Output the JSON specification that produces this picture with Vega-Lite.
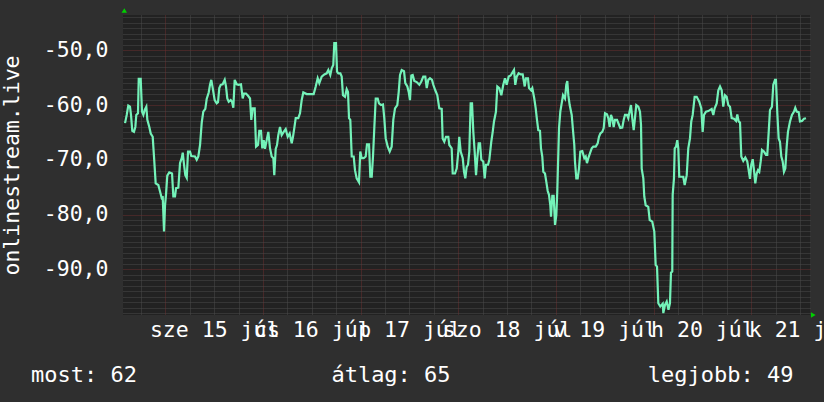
{
  "$schema": "https://vega.github.io/schema/vega-lite/v6.json",
  "width": 687,
  "height": 300,
  "autosize": "none",
  "padding": {"left": 123, "top": 15, "right": 14, "bottom": 87},
  "background": "#2f2f2f",
  "config": {
    "view": {"fill": "#222222", "stroke": null},
    "font": "DejaVu Sans Mono",
    "text": {"font": "DejaVu Sans Mono"}
  },
  "datasets": {
    "signal": [
      {"t":"2020-07-14T14:06","v":-63.3},{"t":"2020-07-14T14:31","v":-61.8},{"t":"2020-07-14T14:54","v":-60.1},{"t":"2020-07-14T15:19","v":-60.3},{"t":"2020-07-14T15:34","v":-61.8},{"t":"2020-07-14T15:53","v":-64.7},{"t":"2020-07-14T16:18","v":-64.9},{"t":"2020-07-14T16:38","v":-64.0},{"t":"2020-07-14T16:52","v":-61.8},{"t":"2020-07-14T17:17","v":-61.5},{"t":"2020-07-14T17:28","v":-55.2},{"t":"2020-07-14T17:57","v":-55.2},{"t":"2020-07-14T18:16","v":-61.2},{"t":"2020-07-14T18:36","v":-61.8},{"t":"2020-07-14T18:56","v":-60.9},{"t":"2020-07-14T19:20","v":-60.3},{"t":"2020-07-14T19:35","v":-62.7},{"t":"2020-07-14T20:04","v":-64.0},{"t":"2020-07-14T20:25","v":-65.2},{"t":"2020-07-14T20:54","v":-65.8},{"t":"2020-07-14T21:13","v":-69.4},{"t":"2020-07-14T21:38","v":-74.3},{"t":"2020-07-14T22:17","v":-74.6},{"t":"2020-07-14T22:42","v":-75.8},{"t":"2020-07-14T23:07","v":-77.0},{"t":"2020-07-14T23:22","v":-76.9},{"t":"2020-07-14T23:41","v":-83.1},{"t":"2020-07-14T23:56","v":-78.3},
      {"t":"2020-07-15T00:10","v":-76.4},{"t":"2020-07-15T00:29","v":-72.9},{"t":"2020-07-15T00:59","v":-72.3},{"t":"2020-07-15T01:39","v":-72.5},{"t":"2020-07-15T01:58","v":-76.7},{"t":"2020-07-15T02:23","v":-76.7},{"t":"2020-07-15T02:38","v":-75.2},{"t":"2020-07-15T03:12","v":-75.1},{"t":"2020-07-15T03:37","v":-70.6},{"t":"2020-07-15T04:02","v":-69.7},{"t":"2020-07-15T04:17","v":-68.7},{"t":"2020-07-15T04:36","v":-70.9},{"t":"2020-07-15T04:55","v":-72.8},{"t":"2020-07-15T05:16","v":-73.3},{"t":"2020-07-15T05:35","v":-68.5},{"t":"2020-07-15T06:04","v":-68.5},{"t":"2020-07-15T06:23","v":-69.3},{"t":"2020-07-15T07:18","v":-69.4},{"t":"2020-07-15T07:43","v":-70.0},{"t":"2020-07-15T08:07","v":-69.4},{"t":"2020-07-15T08:32","v":-67.3},{"t":"2020-07-15T08:57","v":-63.2},{"t":"2020-07-15T09:20","v":-61.2},{"t":"2020-07-15T09:50","v":-60.7},{"t":"2020-07-15T10:10","v":-58.9},{"t":"2020-07-15T10:40","v":-57.7},{"t":"2020-07-15T10:59","v":-56.3},{"t":"2020-07-15T11:18","v":-55.4},{"t":"2020-07-15T11:39","v":-56.9},{"t":"2020-07-15T12:08","v":-59.1},{"t":"2020-07-15T12:38","v":-59.7},{"t":"2020-07-15T12:57","v":-59.5},{"t":"2020-07-15T13:16","v":-56.9},{"t":"2020-07-15T13:37","v":-56.3},{"t":"2020-07-15T14:06","v":-56.2},{"t":"2020-07-15T14:36","v":-55.4},{"t":"2020-07-15T14:55","v":-56.6},{"t":"2020-07-15T15:14","v":-58.8},{"t":"2020-07-15T15:35","v":-59.4},{"t":"2020-07-15T16:04","v":-59.1},{"t":"2020-07-15T16:24","v":-59.4},{"t":"2020-07-15T16:43","v":-60.5},{"t":"2020-07-15T17:03","v":-55.4},{"t":"2020-07-15T17:33","v":-56.2},{"t":"2020-07-15T18:02","v":-56.3},{"t":"2020-07-15T18:36","v":-56.2},{"t":"2020-07-15T19:01","v":-58.8},{"t":"2020-07-15T19:21","v":-57.9},{"t":"2020-07-15T19:50","v":-57.9},{"t":"2020-07-15T20:20","v":-58.3},{"t":"2020-07-15T20:49","v":-58.8},{"t":"2020-07-15T21:08","v":-62.7},{"t":"2020-07-15T21:29","v":-60.6},{"t":"2020-07-15T21:58","v":-60.6},{"t":"2020-07-15T22:18","v":-67.6},{"t":"2020-07-15T22:47","v":-67.3},{"t":"2020-07-15T23:06","v":-64.7},{"t":"2020-07-15T23:31","v":-64.7},{"t":"2020-07-15T23:50","v":-67.9},
      {"t":"2020-07-16T00:11","v":-66.4},{"t":"2020-07-16T00:30","v":-68.0},{"t":"2020-07-16T00:55","v":-66.4},{"t":"2020-07-16T01:19","v":-64.9},{"t":"2020-07-16T01:44","v":-67.9},{"t":"2020-07-16T02:09","v":-69.4},{"t":"2020-07-16T02:33","v":-69.7},{"t":"2020-07-16T02:47","v":-72.8},{"t":"2020-07-16T03:08","v":-68.0},{"t":"2020-07-16T03:27","v":-67.3},{"t":"2020-07-16T03:46","v":-65.5},{"t":"2020-07-16T04:11","v":-64.0},{"t":"2020-07-16T04:36","v":-65.5},{"t":"2020-07-16T05:06","v":-64.9},{"t":"2020-07-16T05:35","v":-64.4},{"t":"2020-07-16T06:05","v":-65.8},{"t":"2020-07-16T06:34","v":-65.2},{"t":"2020-07-16T07:04","v":-67.0},{"t":"2020-07-16T07:23","v":-65.8},{"t":"2020-07-16T07:42","v":-64.2},{"t":"2020-07-16T08:03","v":-62.4},{"t":"2020-07-16T08:41","v":-62.4},{"t":"2020-07-16T09:06","v":-61.5},{"t":"2020-07-16T09:31","v":-59.1},{"t":"2020-07-16T09:55","v":-57.7},{"t":"2020-07-16T10:45","v":-58.0},{"t":"2020-07-16T11:34","v":-58.0},{"t":"2020-07-16T12:28","v":-58.0},{"t":"2020-07-16T12:58","v":-56.6},{"t":"2020-07-16T13:27","v":-55.1},{"t":"2020-07-16T13:51","v":-56.0},{"t":"2020-07-16T14:26","v":-54.8},{"t":"2020-07-16T15:05","v":-54.4},{"t":"2020-07-16T15:40","v":-54.2},{"t":"2020-07-16T16:04","v":-53.6},{"t":"2020-07-16T16:33","v":-54.5},{"t":"2020-07-16T16:54","v":-53.3},{"t":"2020-07-16T17:17","v":-52.7},{"t":"2020-07-16T17:32","v":-48.7},{"t":"2020-07-16T17:57","v":-48.7},{"t":"2020-07-16T18:12","v":-53.9},{"t":"2020-07-16T18:31","v":-54.2},{"t":"2020-07-16T19:01","v":-54.2},{"t":"2020-07-16T19:21","v":-54.8},{"t":"2020-07-16T19:40","v":-58.2},{"t":"2020-07-16T20:10","v":-58.5},{"t":"2020-07-16T20:35","v":-57.1},{"t":"2020-07-16T20:54","v":-57.6},{"t":"2020-07-16T21:09","v":-62.4},{"t":"2020-07-16T21:28","v":-62.7},{"t":"2020-07-16T21:49","v":-69.4},{"t":"2020-07-16T22:18","v":-69.4},{"t":"2020-07-16T22:37","v":-71.9},{"t":"2020-07-16T23:02","v":-73.4},{"t":"2020-07-16T23:36","v":-74.1},{"t":"2020-07-16T23:55","v":-68.5},
      {"t":"2020-07-17T00:16","v":-69.7},{"t":"2020-07-17T00:46","v":-69.7},{"t":"2020-07-17T01:15","v":-69.4},{"t":"2020-07-17T01:34","v":-67.2},{"t":"2020-07-17T02:04","v":-67.2},{"t":"2020-07-17T02:23","v":-73.1},{"t":"2020-07-17T02:44","v":-73.1},{"t":"2020-07-17T03:03","v":-69.3},{"t":"2020-07-17T03:22","v":-64.2},{"t":"2020-07-17T03:43","v":-58.8},{"t":"2020-07-17T04:12","v":-58.8},{"t":"2020-07-17T04:31","v":-59.7},{"t":"2020-07-17T05:01","v":-60.0},{"t":"2020-07-17T05:30","v":-59.9},{"t":"2020-07-17T05:49","v":-62.4},{"t":"2020-07-17T06:10","v":-66.1},{"t":"2020-07-17T06:40","v":-67.6},{"t":"2020-07-17T07:09","v":-68.5},{"t":"2020-07-17T07:38","v":-67.6},{"t":"2020-07-17T08:02","v":-62.7},{"t":"2020-07-17T08:27","v":-60.6},{"t":"2020-07-17T09:01","v":-60.0},{"t":"2020-07-17T09:22","v":-57.6},{"t":"2020-07-17T09:41","v":-54.5},{"t":"2020-07-17T10:06","v":-53.6},{"t":"2020-07-17T10:40","v":-53.8},{"t":"2020-07-17T10:59","v":-56.0},{"t":"2020-07-17T11:29","v":-56.6},{"t":"2020-07-17T11:49","v":-57.6},{"t":"2020-07-17T12:08","v":-59.1},{"t":"2020-07-17T12:28","v":-54.6},{"t":"2020-07-17T12:48","v":-54.5},{"t":"2020-07-17T13:12","v":-55.6},{"t":"2020-07-17T13:47","v":-55.8},{"t":"2020-07-17T14:26","v":-56.3},{"t":"2020-07-17T14:55","v":-55.7},{"t":"2020-07-17T15:24","v":-54.8},{"t":"2020-07-17T15:54","v":-54.8},{"t":"2020-07-17T16:15","v":-56.9},{"t":"2020-07-17T16:38","v":-55.4},{"t":"2020-07-17T17:03","v":-55.1},{"t":"2020-07-17T17:33","v":-55.4},{"t":"2020-07-17T17:52","v":-56.3},{"t":"2020-07-17T18:21","v":-57.3},{"t":"2020-07-17T18:51","v":-58.2},{"t":"2020-07-17T19:20","v":-60.6},{"t":"2020-07-17T19:56","v":-60.7},{"t":"2020-07-17T20:10","v":-66.1},{"t":"2020-07-17T20:34","v":-66.7},{"t":"2020-07-17T20:59","v":-65.8},{"t":"2020-07-17T21:33","v":-65.8},{"t":"2020-07-17T21:48","v":-67.3},{"t":"2020-07-17T22:23","v":-67.9},{"t":"2020-07-17T22:38","v":-72.5},{"t":"2020-07-17T23:12","v":-72.5},{"t":"2020-07-17T23:37","v":-71.6},
      {"t":"2020-07-18T00:01","v":-68.5},{"t":"2020-07-18T00:15","v":-65.8},{"t":"2020-07-18T00:36","v":-68.5},{"t":"2020-07-18T01:06","v":-69.7},{"t":"2020-07-18T01:25","v":-72.2},{"t":"2020-07-18T01:44","v":-73.4},{"t":"2020-07-18T02:04","v":-71.3},{"t":"2020-07-18T02:24","v":-70.9},{"t":"2020-07-18T02:43","v":-68.5},{"t":"2020-07-18T03:03","v":-59.7},{"t":"2020-07-18T03:23","v":-59.7},{"t":"2020-07-18T03:42","v":-64.9},{"t":"2020-07-18T04:02","v":-68.5},{"t":"2020-07-18T04:22","v":-72.8},{"t":"2020-07-18T04:41","v":-69.7},{"t":"2020-07-18T05:01","v":-67.0},{"t":"2020-07-18T05:21","v":-67.0},{"t":"2020-07-18T05:40","v":-70.0},{"t":"2020-07-18T06:09","v":-70.3},{"t":"2020-07-18T06:30","v":-73.4},{"t":"2020-07-18T06:49","v":-70.9},{"t":"2020-07-18T07:19","v":-70.9},{"t":"2020-07-18T07:38","v":-70.0},{"t":"2020-07-18T08:07","v":-66.7},{"t":"2020-07-18T08:28","v":-64.9},{"t":"2020-07-18T08:47","v":-63.0},{"t":"2020-07-18T09:16","v":-61.2},{"t":"2020-07-18T09:36","v":-56.6},{"t":"2020-07-18T10:05","v":-56.9},{"t":"2020-07-18T10:35","v":-58.2},{"t":"2020-07-18T11:04","v":-56.3},{"t":"2020-07-18T11:29","v":-55.1},{"t":"2020-07-18T11:54","v":-56.3},{"t":"2020-07-18T12:24","v":-54.8},{"t":"2020-07-18T12:53","v":-54.6},{"t":"2020-07-18T13:12","v":-54.2},{"t":"2020-07-18T13:42","v":-53.6},{"t":"2020-07-18T14:01","v":-56.3},{"t":"2020-07-18T14:22","v":-54.8},{"t":"2020-07-18T14:51","v":-54.2},{"t":"2020-07-18T15:21","v":-54.4},{"t":"2020-07-18T15:50","v":-54.4},{"t":"2020-07-18T16:20","v":-56.6},{"t":"2020-07-18T16:39","v":-55.1},{"t":"2020-07-18T17:08","v":-55.1},{"t":"2020-07-18T17:23","v":-56.9},{"t":"2020-07-18T17:53","v":-57.3},{"t":"2020-07-18T18:12","v":-56.9},{"t":"2020-07-18T18:41","v":-58.8},{"t":"2020-07-18T19:02","v":-60.6},{"t":"2020-07-18T19:21","v":-62.7},{"t":"2020-07-18T19:40","v":-64.6},{"t":"2020-07-18T20:05","v":-64.7},{"t":"2020-07-18T20:20","v":-67.9},{"t":"2020-07-18T20:39","v":-69.4},{"t":"2020-07-18T20:54","v":-72.2},{"t":"2020-07-18T21:19","v":-72.5},{"t":"2020-07-18T21:38","v":-74.0},{"t":"2020-07-18T21:59","v":-75.7},{"t":"2020-07-18T22:18","v":-76.4},{"t":"2020-07-18T22:37","v":-78.3},{"t":"2020-07-18T22:48","v":-80.4},{"t":"2020-07-18T23:07","v":-76.6},{"t":"2020-07-18T23:27","v":-76.6},{"t":"2020-07-18T23:47","v":-81.9},
      {"t":"2020-07-19T00:06","v":-80.1},{"t":"2020-07-19T00:20","v":-75.8},{"t":"2020-07-19T00:35","v":-69.1},{"t":"2020-07-19T00:46","v":-64.2},{"t":"2020-07-19T01:05","v":-61.2},{"t":"2020-07-19T01:25","v":-59.7},{"t":"2020-07-19T01:45","v":-58.2},{"t":"2020-07-19T02:14","v":-58.8},{"t":"2020-07-19T02:33","v":-56.3},{"t":"2020-07-19T02:48","v":-55.6},{"t":"2020-07-19T03:03","v":-58.2},{"t":"2020-07-19T03:23","v":-60.0},{"t":"2020-07-19T03:53","v":-61.8},{"t":"2020-07-19T04:16","v":-65.2},{"t":"2020-07-19T04:31","v":-67.3},{"t":"2020-07-19T04:41","v":-70.3},{"t":"2020-07-19T05:01","v":-73.4},{"t":"2020-07-19T05:21","v":-73.4},{"t":"2020-07-19T05:40","v":-71.6},{"t":"2020-07-19T06:00","v":-68.5},{"t":"2020-07-19T06:29","v":-68.4},{"t":"2020-07-19T06:59","v":-69.7},{"t":"2020-07-19T07:19","v":-69.4},{"t":"2020-07-19T07:38","v":-70.6},{"t":"2020-07-19T07:58","v":-69.7},{"t":"2020-07-19T08:23","v":-68.8},{"t":"2020-07-19T08:48","v":-67.9},{"t":"2020-07-19T09:11","v":-67.6},{"t":"2020-07-19T09:47","v":-67.6},{"t":"2020-07-19T10:16","v":-67.0},{"t":"2020-07-19T10:35","v":-65.8},{"t":"2020-07-19T10:55","v":-65.2},{"t":"2020-07-19T11:24","v":-64.9},{"t":"2020-07-19T11:45","v":-64.2},{"t":"2020-07-19T12:04","v":-61.5},{"t":"2020-07-19T12:33","v":-61.7},{"t":"2020-07-19T12:53","v":-62.4},{"t":"2020-07-19T13:13","v":-64.0},{"t":"2020-07-19T13:32","v":-61.8},{"t":"2020-07-19T13:51","v":-62.4},{"t":"2020-07-19T14:12","v":-64.0},{"t":"2020-07-19T14:31","v":-62.7},{"t":"2020-07-19T15:01","v":-62.7},{"t":"2020-07-19T15:30","v":-63.6},{"t":"2020-07-19T15:49","v":-64.2},{"t":"2020-07-19T16:19","v":-64.1},{"t":"2020-07-19T16:40","v":-62.7},{"t":"2020-07-19T16:59","v":-61.8},{"t":"2020-07-19T17:28","v":-61.8},{"t":"2020-07-19T17:47","v":-62.4},{"t":"2020-07-19T18:08","v":-61.1},{"t":"2020-07-19T18:27","v":-60.0},{"t":"2020-07-19T18:46","v":-62.4},{"t":"2020-07-19T19:07","v":-64.6},{"t":"2020-07-19T19:26","v":-62.4},{"t":"2020-07-19T19:45","v":-60.0},{"t":"2020-07-19T20:15","v":-60.3},{"t":"2020-07-19T20:40","v":-61.2},{"t":"2020-07-19T20:55","v":-63.6},{"t":"2020-07-19T21:05","v":-71.6},{"t":"2020-07-19T21:29","v":-73.4},{"t":"2020-07-19T21:43","v":-76.7},{"t":"2020-07-19T22:04","v":-78.3},{"t":"2020-07-19T22:42","v":-78.6},{"t":"2020-07-19T23:03","v":-81.0},{"t":"2020-07-19T23:41","v":-81.3},
      {"t":"2020-07-20T00:11","v":-83.1},{"t":"2020-07-20T00:31","v":-89.2},{"t":"2020-07-20T00:51","v":-89.5},{"t":"2020-07-20T01:10","v":-96.2},{"t":"2020-07-20T01:39","v":-96.8},{"t":"2020-07-20T02:15","v":-96.3},{"t":"2020-07-20T02:24","v":-98.0},{"t":"2020-07-20T02:49","v":-96.5},{"t":"2020-07-20T03:14","v":-95.9},{"t":"2020-07-20T03:40","v":-97.4},{"t":"2020-07-20T04:02","v":-96.2},{"t":"2020-07-20T04:17","v":-90.6},{"t":"2020-07-20T04:36","v":-90.4},{"t":"2020-07-20T04:42","v":-76.4},{"t":"2020-07-20T05:01","v":-73.4},{"t":"2020-07-20T05:12","v":-67.9},{"t":"2020-07-20T05:31","v":-67.6},{"t":"2020-07-20T05:50","v":-66.4},{"t":"2020-07-20T06:05","v":-67.9},{"t":"2020-07-20T06:19","v":-73.1},{"t":"2020-07-20T06:55","v":-73.1},{"t":"2020-07-20T07:18","v":-73.1},{"t":"2020-07-20T07:39","v":-74.6},{"t":"2020-07-20T08:09","v":-72.8},{"t":"2020-07-20T08:32","v":-67.9},{"t":"2020-07-20T08:57","v":-66.1},{"t":"2020-07-20T09:16","v":-63.0},{"t":"2020-07-20T09:37","v":-61.8},{"t":"2020-07-20T10:06","v":-58.5},{"t":"2020-07-20T10:36","v":-58.5},{"t":"2020-07-20T11:14","v":-59.4},{"t":"2020-07-20T11:44","v":-60.6},{"t":"2020-07-20T12:04","v":-64.9},{"t":"2020-07-20T12:24","v":-61.8},{"t":"2020-07-20T12:53","v":-61.2},{"t":"2020-07-20T13:27","v":-61.1},{"t":"2020-07-20T14:17","v":-60.7},{"t":"2020-07-20T14:41","v":-61.8},{"t":"2020-07-20T15:01","v":-60.6},{"t":"2020-07-20T15:31","v":-59.7},{"t":"2020-07-20T15:55","v":-57.3},{"t":"2020-07-20T16:20","v":-56.6},{"t":"2020-07-20T16:45","v":-57.3},{"t":"2020-07-20T17:08","v":-60.3},{"t":"2020-07-20T17:33","v":-58.2},{"t":"2020-07-20T17:58","v":-58.5},{"t":"2020-07-20T18:22","v":-60.0},{"t":"2020-07-20T18:47","v":-60.3},{"t":"2020-07-20T19:12","v":-62.4},{"t":"2020-07-20T19:46","v":-62.5},{"t":"2020-07-20T20:16","v":-62.9},{"t":"2020-07-20T20:35","v":-61.7},{"t":"2020-07-20T20:55","v":-63.0},{"t":"2020-07-20T21:15","v":-63.2},{"t":"2020-07-20T21:34","v":-69.4},{"t":"2020-07-20T22:03","v":-70.2},{"t":"2020-07-20T22:33","v":-69.6},{"t":"2020-07-20T23:02","v":-70.3},{"t":"2020-07-20T23:23","v":-71.9},{"t":"2020-07-20T23:42","v":-73.5},
      {"t":"2020-07-21T00:01","v":-70.9},{"t":"2020-07-21T00:22","v":-69.9},{"t":"2020-07-21T00:41","v":-71.9},{"t":"2020-07-21T01:00","v":-74.3},{"t":"2020-07-21T01:21","v":-72.5},{"t":"2020-07-21T01:40","v":-71.9},{"t":"2020-07-21T01:59","v":-72.2},{"t":"2020-07-21T02:20","v":-70.3},{"t":"2020-07-21T02:39","v":-68.2},{"t":"2020-07-21T03:08","v":-68.5},{"t":"2020-07-21T03:38","v":-69.1},{"t":"2020-07-21T03:57","v":-69.1},{"t":"2020-07-21T04:18","v":-64.9},{"t":"2020-07-21T04:37","v":-60.9},{"t":"2020-07-21T05:06","v":-60.3},{"t":"2020-07-21T05:26","v":-56.3},{"t":"2020-07-21T05:51","v":-55.4},{"t":"2020-07-21T06:05","v":-55.4},{"t":"2020-07-21T06:25","v":-61.5},{"t":"2020-07-21T06:45","v":-66.1},{"t":"2020-07-21T07:04","v":-66.7},{"t":"2020-07-21T07:24","v":-69.4},{"t":"2020-07-21T07:44","v":-70.3},{"t":"2020-07-21T08:03","v":-72.2},{"t":"2020-07-21T08:23","v":-71.6},{"t":"2020-07-21T08:43","v":-67.6},{"t":"2020-07-21T09:02","v":-64.9},{"t":"2020-07-21T09:32","v":-63.0},{"t":"2020-07-21T10:01","v":-61.8},{"t":"2020-07-21T10:31","v":-61.2},{"t":"2020-07-21T10:50","v":-60.5},{"t":"2020-07-21T11:11","v":-61.2},{"t":"2020-07-21T11:40","v":-61.3},{"t":"2020-07-21T11:59","v":-63.0},{"t":"2020-07-21T12:29","v":-62.9},{"t":"2020-07-21T12:58","v":-62.5},{"t":"2020-07-21T13:28","v":-62.4}
    ],
    "legend": [
      {"label": "most: 62"},
      {"label": "átlag: 65"},
      {"label": "legjobb: 49"}
    ]
  },
  "layer": [
    {
      "data": {"name": "signal"},
      "mark": {"type": "line", "color": "#74f2b9", "strokeWidth": 2.2, "clip": true},
      "encoding": {
        "x": {
          "field": "t",
          "type": "temporal",
          "scale": {
            "domain": [
              {"year": 2020, "month": 7, "date": 14, "hours": 13, "minutes": 36},
              {"year": 2020, "month": 7, "date": 21, "hours": 14, "minutes": 27}
            ],
            "nice": false
          },
          "axis": {
            "title": null,
            "values": [
              {"year": 2020, "month": 7, "date": 14, "hours": 18},
              {"year": 2020, "month": 7, "date": 15, "hours": 0},
              {"year": 2020, "month": 7, "date": 15, "hours": 6},
              {"year": 2020, "month": 7, "date": 15, "hours": 12},
              {"year": 2020, "month": 7, "date": 15, "hours": 18},
              {"year": 2020, "month": 7, "date": 16, "hours": 0},
              {"year": 2020, "month": 7, "date": 16, "hours": 6},
              {"year": 2020, "month": 7, "date": 16, "hours": 12},
              {"year": 2020, "month": 7, "date": 16, "hours": 18},
              {"year": 2020, "month": 7, "date": 17, "hours": 0},
              {"year": 2020, "month": 7, "date": 17, "hours": 6},
              {"year": 2020, "month": 7, "date": 17, "hours": 12},
              {"year": 2020, "month": 7, "date": 17, "hours": 18},
              {"year": 2020, "month": 7, "date": 18, "hours": 0},
              {"year": 2020, "month": 7, "date": 18, "hours": 6},
              {"year": 2020, "month": 7, "date": 18, "hours": 12},
              {"year": 2020, "month": 7, "date": 18, "hours": 18},
              {"year": 2020, "month": 7, "date": 19, "hours": 0},
              {"year": 2020, "month": 7, "date": 19, "hours": 6},
              {"year": 2020, "month": 7, "date": 19, "hours": 12},
              {"year": 2020, "month": 7, "date": 19, "hours": 18},
              {"year": 2020, "month": 7, "date": 20, "hours": 0},
              {"year": 2020, "month": 7, "date": 20, "hours": 6},
              {"year": 2020, "month": 7, "date": 20, "hours": 12},
              {"year": 2020, "month": 7, "date": 20, "hours": 18},
              {"year": 2020, "month": 7, "date": 21, "hours": 0},
              {"year": 2020, "month": 7, "date": 21, "hours": 6},
              {"year": 2020, "month": 7, "date": 21, "hours": 12}
            ],
            "labelExpr": "hours(datum.value) == 12 ? ['v','h','k','sze','cs','p','szo'][day(datum.value)] + ' ' + date(datum.value) + ' júl' : ''",
            "labelOverlap": false,
            "labelFlush": false,
            "labelBound": false,
            "labelAngle": 0,
            "labelFont": "DejaVu Sans Mono",
            "labelFontSize": 21.5,
            "labelColor": "#ffffff",
            "labelPadding": 4,
            "ticks": false,
            "domain": false,
            "grid": true,
            "gridDash": [1, 1],
            "gridWidth": 1,
            "gridColor": {"condition": {"test": "hours(datum.value) == 0", "value": "#6a2f2f"}, "value": "#4a4a4a"}
          }
        },
        "y": {
          "field": "v",
          "type": "quantitative",
          "scale": {"domain": [-98.35, -43.55], "nice": false, "zero": false},
          "axis": {
            "title": "onlinestream.live",
            "titleFont": "DejaVu Sans Mono",
            "titleFontSize": 21.5,
            "titleFontWeight": "normal",
            "titleColor": "#ffffff",
            "titleAngle": -90,
            "titleAlign": "center",
            "titleBaseline": "alphabetic",
            "titleX": -105,
            "titleY": 150,
            "values": [-98,-97,-96,-95,-94,-93,-92,-91,-90,-89,-88,-87,-86,-85,-84,-83,-82,-81,-80,-79,-78,-77,-76,-75,-74,-73,-72,-71,-70,-69,-68,-67,-66,-65,-64,-63,-62,-61,-60,-59,-58,-57,-56,-55,-54,-53,-52,-51,-50,-49,-48,-47,-46,-45,-44],
            "labelExpr": "datum.value % 10 == 0 ? datum.value + ',0' : ''",
            "labelOverlap": false,
            "labelFont": "DejaVu Sans Mono",
            "labelFontSize": 21.5,
            "labelColor": "#ffffff",
            "labelPadding": 15,
            "ticks": false,
            "domain": false,
            "grid": true,
            "gridDash": [1, 1],
            "gridWidth": 1,
            "gridColor": {"condition": {"test": "datum.value % 10 == 0", "value": "#6a2f2f"}, "value": "#4a4a4a"}
          }
        }
      }
    },
    {
      "data": {"name": "legend"},
      "transform": [{"filter": "datum.label == 'most: 62'"}],
      "mark": {"type": "text", "align": "left", "baseline": "alphabetic", "fontSize": 22, "color": "#ffffff", "font": "DejaVu Sans Mono"},
      "encoding": {"text": {"field": "label"}, "x": {"value": -92}, "y": {"value": 366.7}}
    },
    {
      "data": {"name": "legend"},
      "transform": [{"filter": "datum.label == 'átlag: 65'"}],
      "mark": {"type": "text", "align": "center", "baseline": "alphabetic", "fontSize": 22, "color": "#ffffff", "font": "DejaVu Sans Mono"},
      "encoding": {"text": {"field": "label"}, "x": {"value": 268}, "y": {"value": 366.7}}
    },
    {
      "data": {"name": "legend"},
      "transform": [{"filter": "datum.label == 'legjobb: 49'"}],
      "mark": {"type": "text", "align": "right", "baseline": "alphabetic", "fontSize": 22, "color": "#ffffff", "font": "DejaVu Sans Mono"},
      "encoding": {"text": {"field": "label"}, "x": {"value": 670.5}, "y": {"value": 366.7}}
    },
    {
      "data": {"values": [{"arrow": "y"}]},
      "mark": {"type": "point", "shape": "triangle-up", "filled": true, "color": "#00d000", "size": 30, "opacity": 1},
      "encoding": {"x": {"value": 1.3}, "y": {"value": -4.5}}
    },
    {
      "data": {"values": [{"arrow": "x"}]},
      "mark": {"type": "point", "shape": "triangle-right", "filled": true, "color": "#00d000", "size": 30, "opacity": 1},
      "encoding": {"x": {"value": 690.3}, "y": {"value": 300}}
    }
  ]
}
